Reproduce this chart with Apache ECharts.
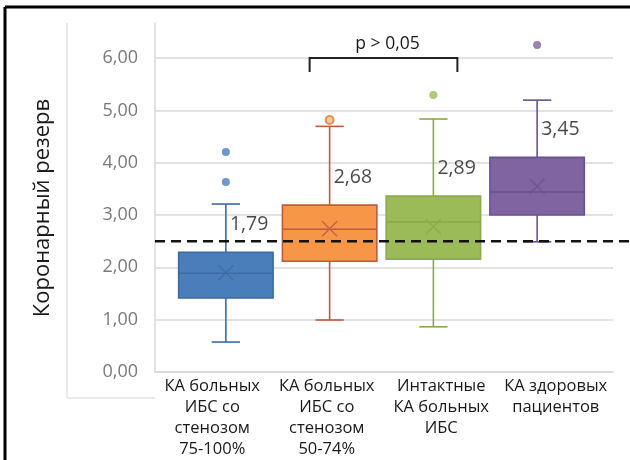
<!DOCTYPE html>
<html>
<head>
<meta charset="utf-8">
<script src="https://cdn.jsdelivr.net/npm/echarts@6/dist/echarts.min.js"></script>
<style>
  html, body { margin: 0; background: #fff; }
  #chart { width: 630px; height: 460px; }
</style>
</head>
<body>
<div id="chart"></div>
<script>
// categories (x axis labels)
const categories = [
  'КА больных\nИБС со\nстенозом\n75-100%',
  'КА больных\nИБС со\nстенозом\n50-74%',
  'Интактные\nКА больных\nИБС',
  'КА здоровых\nпациентов'
];
// [min, q1, median, q3, max] per group
const lowValues = [0.59, 1.01, 0.88, 2.50];
const q1Values = [1.43, 2.13, 2.17, 3.01];
const medianValues = [1.90, 2.74, 2.88, 3.45];
const q3Values = [2.30, 3.20, 3.37, 4.11];
const highValues = [3.22, 4.70, 4.84, 5.20];
const meanValues = [1.91, 2.75, 2.79, 3.56];
// outliers: [group index, value]
const outliers = [[0, 4.21], [0, 3.64], [1, 4.82], [2, 5.30], [3, 6.25]];
const medianLabels = ['1,79', '2,68', '2,89', '3,45'];
const thresholdValue = 2.5;
const pText = 'p > 0,05';
const yTitle = 'Коронарный резерв';

const palette = [
  { fill: '#4A7EBB', line: '#3D6AA3' },
  { fill: '#F79646', line: '#BE5A44' },
  { fill: '#9BBB59', line: '#8AAA4C' },
  { fill: '#8064A2', line: '#6A5190' }
];
const fontFamily = '"Open Sans", "Noto Sans", sans-serif';
const textColor = '#1a1a1a';

const chart = echarts.init(document.getElementById('chart'));

function renderBox(params, api) {
  const i = api.value(0);
  const c = palette[i];
  const low = api.coord([i, api.value(1)]);
  const q1 = api.coord([i, api.value(2)]);
  const med = api.coord([i, api.value(3)]);
  const q3 = api.coord([i, api.value(4)]);
  const high = api.coord([i, api.value(5)]);
  const band = api.size([1, 0])[0];
  const w = band * 0.91;
  const cap = w * 0.3;
  const x = low[0];
  const ls = { stroke: c.line, lineWidth: 1.6 };
  return {
    type: 'group',
    children: [
      { type: 'line', shape: { x1: x, y1: high[1], x2: x, y2: low[1] }, style: ls },
      { type: 'line', shape: { x1: x - cap / 2, y1: high[1], x2: x + cap / 2, y2: high[1] }, style: ls },
      { type: 'line', shape: { x1: x - cap / 2, y1: low[1], x2: x + cap / 2, y2: low[1] }, style: ls },
      {
        type: 'rect',
        shape: { x: x - w / 2, y: q3[1], width: w, height: q1[1] - q3[1] },
        style: { fill: c.fill, stroke: c.line, lineWidth: 1.6 }
      },
      { type: 'line', shape: { x1: x - w / 2, y1: med[1], x2: x + w / 2, y2: med[1] }, style: ls }
    ]
  };
}

const boxData = categories.map((_, i) => [i, lowValues[i], q1Values[i], medianValues[i], q3Values[i], highValues[i]]);

const option = {
  animation: false,
  textStyle: { fontFamily: fontFamily },
  grid: [
    { left: 155, right: 17, top: 23, bottom: 87 },
    { left: 174, right: 41, top: 23, bottom: 87 }
  ],
  xAxis: [
    {
      type: 'category',
      gridIndex: 0,
      data: categories,
      axisLine: { lineStyle: { color: '#d9d9d9', width: 1.5 } },
      axisTick: { show: false },
      axisLabel: {
        color: textColor,
        fontSize: 16.5,
        lineHeight: 21,
        margin: 4,
        interval: 0,
        fontFamily: fontFamily
      }
    },
    {
      type: 'category',
      gridIndex: 1,
      data: categories,
      show: false
    }
  ],
  yAxis: [
    {
      type: 'value',
      gridIndex: 0,
      min: 0,
      max: 6.67,
      interval: 1,
      axisLine: { show: true, lineStyle: { color: '#d9d9d9', width: 1.5 } },
      axisTick: { show: false },
      splitLine: { showMaxLine: false, lineStyle: { color: '#d9d9d9', width: 1.5 } },
      axisLabel: {
        showMaxLabel: false,
        color: '#7a7a7a',
        fontSize: 18,
        margin: 17,
        formatter: v => v.toFixed(2).replace('.', ',')
      }
    },
    {
      type: 'value',
      gridIndex: 1,
      min: 0,
      max: 6.67,
      show: false
    }
  ],
  series: [
    {
      type: 'custom',
      xAxisIndex: 1,
      yAxisIndex: 1,
      renderItem: renderBox,
      encode: { x: 0, y: [1, 2, 3, 4, 5] },
      data: boxData,
      z: 3
    },
    {
      type: 'scatter',
      xAxisIndex: 1,
      yAxisIndex: 1,
      symbol: 'circle',
      symbolSize: 8,
      z: 4,
      data: outliers.map(o => ({
        value: o,
        itemStyle: o[0] === 1
          ? { color: '#F9B98A', borderColor: '#E07A3A', borderWidth: 2 }
          : { color: palette[o[0]].fill }
      }))
    },
    {
      type: 'scatter',
      xAxisIndex: 1,
      yAxisIndex: 1,
      symbol: 'path://M0,0L10,10M10,0L0,10',
      symbolSize: 15,
      z: 5,
      data: meanValues.map((m, i) => ({
        value: [i, m],
        itemStyle: { color: 'rgba(0,0,0,0)', borderColor: palette[i].line, borderWidth: 1.6 }
      }))
    },
    {
      type: 'scatter',
      xAxisIndex: 1,
      yAxisIndex: 1,
      symbolSize: 0,
      z: 6,
      data: q3Values.map((q, i) => [i, q]),
      label: {
        show: true,
        position: 'right',
        distance: 4,
        offset: [0, -28],
        color: textColor,
        fontSize: 19.5,
        fontFamily: fontFamily,
        formatter: p => medianLabels[p.dataIndex]
      }
    }
  ]
};

chart.setOption(option);

const yThr = chart.convertToPixel({ yAxisIndex: 0 }, thresholdValue);
const y6 = chart.convertToPixel({ yAxisIndex: 0 }, 6);
const xL = chart.convertToPixel({ xAxisIndex: 1 }, 1) - 20;
const xR = chart.convertToPixel({ xAxisIndex: 1 }, 2) + 24;

chart.setOption({
  graphic: [
    // outer black frame (left and top)
    { type: 'line', shape: { x1: 5, y1: 7, x2: 5, y2: 460 }, style: { stroke: '#000', lineWidth: 3 } },
    { type: 'line', shape: { x1: 5, y1: 7, x2: 630, y2: 7 }, style: { stroke: '#000', lineWidth: 3 } },
    // light frame on the left
    { type: 'line', shape: { x1: 67, y1: 23, x2: 67, y2: 398 }, style: { stroke: '#e3e3e3', lineWidth: 1.5 } },
    { type: 'line', shape: { x1: 67, y1: 398, x2: 155, y2: 398 }, style: { stroke: '#e3e3e3', lineWidth: 1.5 } },
    // threshold dashed line
    {
      type: 'line',
      z: 10,
      shape: { x1: 155, y1: yThr, x2: 630, y2: yThr },
      style: { stroke: '#111', lineWidth: 2.5, lineDash: [10, 6] }
    },
    // bracket
    {
      type: 'polyline',
      z: 10,
      shape: { points: [[xL, y6 + 14], [xL, y6], [xR, y6], [xR, y6 + 14]] },
      style: { stroke: '#222', lineWidth: 2, fill: null }
    },
    {
      type: 'text',
      z: 10,
      x: (xL + xR) / 2 + 4,
      y: y6 - 14,
      style: {
        text: pText,
        fill: textColor,
        font: '17.5px ' + fontFamily,
        align: 'center',
        verticalAlign: 'middle'
      }
    },
    // y axis title
    {
      type: 'text',
      x: 43,
      y: 208,
      rotation: Math.PI / 2,
      style: {
        text: yTitle,
        fill: textColor,
        font: '22px ' + fontFamily,
        align: 'center',
        verticalAlign: 'middle'
      }
    }
  ]
});
</script>
</body>
</html>
